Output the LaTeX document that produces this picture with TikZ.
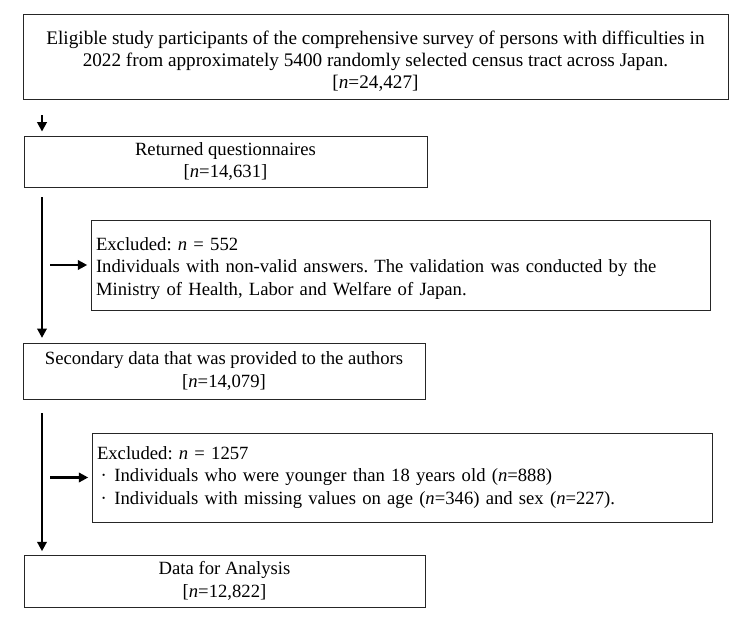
\documentclass[tikz,border=0pt]{standalone}
\usepackage{fontspec}
\setmainfont{Liberation Serif}
\frenchspacing
\usetikzlibrary{arrows.meta}
\tikzset{
  box/.style={draw=black!85, line width=0.65pt, inner sep=0pt, align=center,
    font=\fontsize{14}{17}\selectfont},
  exbox/.style={box, align=left, inner xsep=3.75pt, text width=#1},
  arr/.style={line width=2.1pt, -{Triangle[length=7pt,width=7pt]}}
}
\begin{document}
\begin{tikzpicture}[x=0.75pt,y=-0.75pt]
\useasboundingbox (0,0) rectangle (750,624);
\node[box, minimum width=528.75pt, minimum height=63.75pt,
  font=\fontsize{14.4}{16.5}\selectfont] (b1) at (375.5,56.5)
  {\rule{0pt}{17pt}Eligible study participants of the comprehensive survey of persons with difficulties in\\
   2022 from approximately 5400 randomly selected census tract across Japan.\\
   {[}\textit{n}=24,427{]}};
\node[box, minimum width=302.25pt, minimum height=38.25pt] (b2) at (225.5,161.5)
  {Returned questionnaires\\ {[}\textit{n}=14,631{]}};
\node[exbox=456.75pt, minimum height=67.5pt] (e1) at (400.5,265)
  {\rule{0pt}{15pt}Excluded: \textit{n} = 552\\
   Individuals with non-valid answers. The validation was conducted by the\\
   Ministry of Health, Labor and Welfare of Japan.};
\node[box, minimum width=301.5pt, minimum height=42pt] (b3) at (224,371)
  {Secondary data that was provided to the authors\\ {[}\textit{n}=14,079{]}};
\node[exbox=457.5pt, minimum height=66.75pt] (e2) at (402,477.5)
  {Excluded: \textit{n} = 1257\\
   \hspace{0.2em}·\hspace{0.4em}Individuals who were younger than 18 years old (\textit{n}=888)\\
   \hspace{0.2em}·\hspace{0.4em}Individuals with missing values on age (\textit{n}=346) and sex (\textit{n}=227).};
\node[box, minimum width=300.75pt, minimum height=39pt] (b4) at (224.5,581)
  {Data for Analysis\\ {[}\textit{n}=12,822{]}};
\coordinate (ax) at (42,0);
\draw[arr, shorten <=12pt, shorten >=3pt] (b1.south -| ax) -- (b2.north -| ax);
\draw[arr, shorten <=7.5pt, shorten >=3.5pt] (b2.south -| ax) -- (b3.north -| ax);
\draw[arr, shorten <=6pt, shorten >=2.5pt] (e1.west -| ax) -- (e1.west);
\draw[arr, shorten <=10.5pt, shorten >=2.5pt] (b3.south -| ax) -- (b4.north -| ax);
\draw[arr, shorten <=6pt, shorten >=2.5pt] (e2.west -| ax) -- (e2.west);
\end{tikzpicture}
\end{document}
